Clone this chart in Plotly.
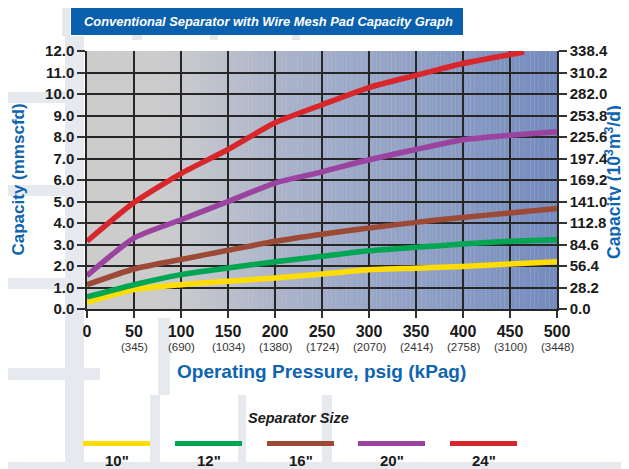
import plotly.graph_objects as go

# ---------------- data ----------------
pressure_psig = [0, 50, 100, 150, 200, 250, 300, 350, 400, 450, 500]
pressure_kpag = ["", "345", "690", "1034", "1380", "1724", "2070", "2414", "2758", "3100", "3448"]

size_labels = ['10"', '12"', '16"', '20"', '24"']
size_colors = ["#ffdd00", "#00a651", "#9c4a36", "#9b449f", "#d7262c"]

cap_10 = [0.31, 0.90, 1.13, 1.29, 1.44, 1.63, 1.83, 1.90, 1.98, 2.09, 2.20]
cap_12 = [0.56, 1.13, 1.60, 1.91, 2.20, 2.45, 2.71, 2.87, 3.02, 3.15, 3.22]
cap_16 = [1.13, 1.86, 2.30, 2.73, 3.15, 3.48, 3.77, 4.03, 4.26, 4.47, 4.67]
cap_20 = [1.55, 3.30, 4.15, 5.00, 5.86, 6.38, 6.94, 7.42, 7.87, 8.08, 8.25]
red_x = [0, 50, 100, 150, 200, 250, 300, 350, 400, 465]
cap_24 = [3.15, 4.95, 6.30, 7.42, 8.66, 9.50, 10.30, 10.87, 11.42, 11.95]

left_ticks = [i * 1.0 for i in range(13)]
right_ticks = [round(i * 28.2, 1) for i in range(13)]

FONT = "Liberation Sans, Arial, sans-serif"
BLUE = "#0d64b0"
INK = "#1a1a1a"

# reference geometry in window pixels; the page body has an 8px margin
OFF = 8
WIN_W, WIN_H = 629, 469
W, H = WIN_W - OFF, WIN_H - OFF
L, R, T, B = 87, 557, 51, 309          # plot area in window pixels


def px(x):
    return (x - L) / (R - L)


def py(y):
    return (B - y) / (B - T)


fig = go.Figure()

series_x = [pressure_psig, pressure_psig, pressure_psig, pressure_psig, red_x]
series_y = [cap_10, cap_12, cap_16, cap_20, cap_24]
for name, col, xs, ys in zip(size_labels, size_colors, series_x, series_y):
    fig.add_trace(go.Scatter(x=xs, y=ys, mode="lines", name=name,
                             line=dict(color=col, width=5.5, shape="spline", smoothing=0.6),
                             showlegend=False, hoverinfo="skip"))
# invisible trace to activate the right axis
fig.add_trace(go.Scatter(x=[0, 500], y=[0, 338.4], yaxis="y2", mode="lines",
                         line=dict(width=0), opacity=0, showlegend=False, hoverinfo="skip"))

shapes = []

# decorative background bands
band = "#e6e9ee"
for (x0, x1, y0, y1) in [(65, 84, 36, 469), (0, 84, 92, 103), (0, 84, 185, 196), (0, 84, 278, 289),
                         (62, 70, 0, 36), (132, 142, 0, 40), (210, 218, 0, 40), (292, 300, 0, 40),
                         (158, 170, 318, 395), (0, 100, 368, 380),
                         (150, 160, 395, 462), (238, 246, 395, 462), (322, 332, 395, 462),
                         (0, 629, 462, 469), (0, 629, 0, 4)]:
    shapes.append(dict(type="rect", xref="paper", yref="paper", layer="below",
                       x0=px(x0), x1=px(x1), y0=py(y1), y1=py(y0),
                       fillcolor=band, line=dict(width=0)))

# plot background gradient grey -> blue
stops = [(0, (204, 204, 204)), (75, (204, 204, 204)), (110, (198, 200, 206)),
         (200, (172, 180, 202)), (300, (152, 166, 199)), (400, (136, 154, 196)),
         (500, (114, 138, 190))]


def grad(x):
    for (xa, ca), (xb, cb) in zip(stops[:-1], stops[1:]):
        if xa <= x <= xb:
            t = (x - xa) / (xb - xa)
            return tuple(int(round(a + (b - a) * t)) for a, b in zip(ca, cb))
    return stops[-1][1]


step = 4
for i in range(0, 500, step):
    c = grad(i + step / 2)
    shapes.append(dict(type="rect", xref="x", yref="paper", layer="below",
                       x0=i, x1=i + step, y0=0, y1=1,
                       fillcolor="rgb(%d,%d,%d)" % c, line=dict(width=0)))

# title box
shapes.append(dict(type="rect", xref="paper", yref="paper", x0=px(71), x1=px(463),
                   y0=py(35), y1=py(8), fillcolor="#0a60ad", line=dict(width=0)))

# legend swatches
leg_x0 = [83, 175, 267, 358, 450]
for col, x0 in zip(size_colors, leg_x0):
    shapes.append(dict(type="line", xref="paper", yref="paper",
                       x0=px(x0), x1=px(x0 + 67), y0=py(443.5), y1=py(443.5),
                       line=dict(color=col, width=5)))

annotations = [
    dict(text="<i><b>Conventional Separator with Wire Mesh Pad Capacity Graph</b></i>",
         xref="paper", yref="paper", x=px(268), y=py(21.5), showarrow=False,
         font=dict(family=FONT, size=12.9, color="white"), xanchor="center", yanchor="middle"),
    dict(text="<i><b>Separator Size</b></i>", xref="paper", yref="paper",
         x=px(298), y=py(418), showarrow=False, xanchor="center", yanchor="middle",
         font=dict(family=FONT, size=14.5, color=INK)),
    dict(text="<b>Operating Pressure, psig (kPag)</b>", xref="paper", yref="paper",
         x=px(321), y=py(371), showarrow=False, xanchor="center", yanchor="middle",
         font=dict(family=FONT, size=19, color=BLUE)),
    dict(text="<b>Capacity (mmscfd)</b>", xref="paper", yref="paper", textangle=-90,
         x=px(17.5), y=py(180), showarrow=False, xanchor="center", yanchor="middle",
         font=dict(family=FONT, size=17, color=BLUE)),
    dict(text="<b>Capacity (10<sup>3</sup>m<sup>3</sup>/d)</b>", xref="paper", yref="paper", textangle=-90,
         x=px(613), y=py(182), showarrow=False, xanchor="center", yanchor="middle",
         font=dict(family=FONT, size=17.5, color=BLUE)),
]
for lab, x0 in zip(size_labels, leg_x0):
    annotations.append(dict(text="<b>%s</b>" % lab, xref="paper", yref="paper",
                            x=px(x0 + 33.5), y=py(460), showarrow=False,
                            xanchor="center", yanchor="middle",
                            font=dict(family=FONT, size=15, color=INK)))
for p, k in zip(pressure_psig, pressure_kpag):
    if k:
        annotations.append(dict(text="(%s)" % k, xref="x", yref="paper", x=p, y=py(347),
                                showarrow=False, xanchor="center", yanchor="middle",
                                font=dict(family=FONT, size=11.5, color="#333")))

fig.update_layout(
    width=W, height=H,
    margin=dict(l=L - OFF, r=W - (R - OFF), t=T - OFF, b=H - (B - OFF), pad=0),
    paper_bgcolor="white", plot_bgcolor="#cccccc",
    shapes=shapes, annotations=annotations,
    xaxis=dict(range=[0, 500], tickvals=pressure_psig, ticktext=["<b>%d</b>" % p for p in pressure_psig],
               showgrid=True, gridcolor="#262626", gridwidth=1.5, automargin=False,
               zeroline=False, showline=True, linecolor="#262626", linewidth=1.5,
               ticks="outside", ticklen=7, tickcolor="#333", tickwidth=1.5,
               tickfont=dict(family=FONT, size=16, color=INK),
               fixedrange=True),
    yaxis=dict(range=[0, 12], tickvals=left_ticks, ticktext=["<b>%.1f</b>" % v for v in left_ticks],
               showgrid=True, gridcolor="#262626", gridwidth=1.5, automargin=False,
               zeroline=False, showline=True, linecolor="#262626", linewidth=1.5,
               ticks="outside", ticklen=8, tickcolor="#333", tickwidth=1.5,
               tickfont=dict(family=FONT, size=15, color=INK)),
    yaxis2=dict(range=[0, 338.4], tickvals=right_ticks, ticktext=["<b>%.1f</b>" % v for v in right_ticks],
                overlaying="y", side="right", showgrid=False, zeroline=False, automargin=False,
                showline=True, linecolor="#262626", linewidth=1.5,
                ticks="outside", ticklen=8, tickcolor="#333", tickwidth=1.5,
                tickfont=dict(family=FONT, size=15, color=INK)),
)

fig.write_html("out.html")
